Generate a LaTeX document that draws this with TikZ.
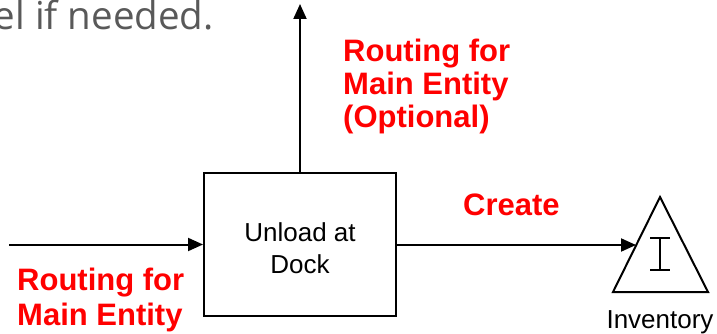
\documentclass[tikz,border=0pt]{standalone}
\usepackage{fontspec}
\setmainfont{Liberation Sans}
\newfontfamily\grayfont{Open Sans}
\usetikzlibrary{arrows.meta}
\definecolor{redlbl}{RGB}{255,0,0}
\definecolor{graytxt}{RGB}{89,89,89}
\begin{document}
\begin{tikzpicture}[x=1pt,y=-1pt,
  conn/.style={line width=2pt,-{Triangle[length=15pt,width=13pt]}},
  lbl/.style={text=redlbl,font=\fontsize{31}{35}\selectfont\bfseries,inner sep=0pt,align=left},
  blk/.style={font=\fontsize{26}{31}\selectfont,inner sep=0pt}]
\useasboundingbox (0,0) rectangle (717,334);
\begin{scope}
\clip (0,0) rectangle (717,334);
\node[anchor=base east,inner sep=0pt,text=graytxt,font=\grayfont\fontsize{38.5}{44}\selectfont] (note) at (214,30) {el if needed.};
\end{scope}
% process box
\node[draw,line width=2pt,minimum width=192pt,minimum height=143pt,inner sep=0pt] (box) at (300,244.5) {};
\node[blk,align=center] (boxtxt) at (300,248) {Unload at\\[1pt]Dock};
% inventory triangle
\draw[line width=2pt,line join=miter] (660,197) coordinate (apex) -- (708,292) coordinate (br) -- (613,292) coordinate (bl) -- cycle;
\coordinate (tin) at (636,245);
\draw[line width=2.2pt] (660,238) -- (660,270) (650,238) -- (670,238) (650,270) -- (670,270);
\node[blk,anchor=base] (inv) at (660,328) {Inventory};
% connectors
\coordinate (lstart) at (9,244.5);
\coordinate (utop) at (300,4);
\draw[conn] (lstart) -- (box.west);
\draw[conn] (box.north) -- (utop);
\draw[conn] (box.east |- 0,245) -- (tin);
% labels
\node[lbl,anchor=base west] (ropt) at (343,62) {Routing for};
\node[lbl,anchor=base west] (ropt2) at (343,95) {Main Entity};
\node[lbl,anchor=base west] (ropt3) at (343,128) {(Optional)};
\node[lbl,anchor=base west] (create) at (463,215) {Create};
\node[lbl,anchor=base west] (rin) at (17,290) {Routing for};
\node[lbl,anchor=base west] (rin2) at (17,325) {Main Entity};
\end{tikzpicture}
\end{document}
